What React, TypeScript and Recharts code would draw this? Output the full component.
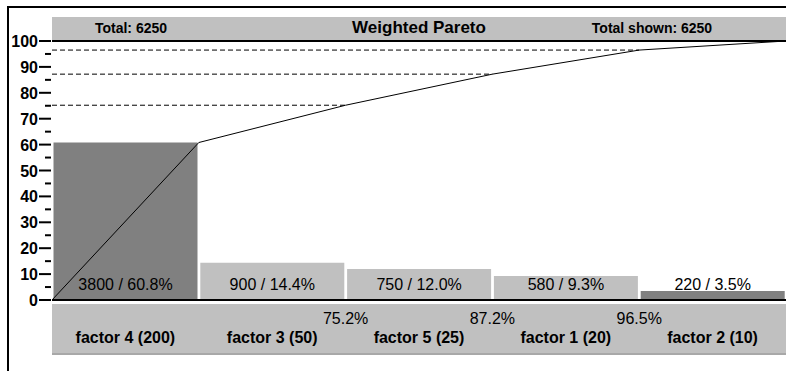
import React from "react";
import {
  ComposedChart,
  Bar,
  Line,
  XAxis,
  YAxis,
  Cell,
  LabelList,
  ReferenceLine,
} from "recharts";

const factors = [
  "factor 4 (200)",
  "factor 3 (50)",
  "factor 5 (25)",
  "factor 1 (20)",
  "factor 2 (10)",
];
const counts = [3800, 900, 750, 580, 220];
const shares = [60.8, 14.4, 12.0, 9.3, 3.5];
const cumulative = [0, 60.8, 75.2, 87.2, 96.5, 100];
const guideIdx = [2, 3, 4];
const yTicks = [0, 5, 10, 15, 20, 25, 30, 35, 40, 45, 50, 55, 60, 65, 70, 75, 80, 85, 90, 95, 100];
const barColors = ["#808080", "#c0c0c0", "#c0c0c0", "#c0c0c0", "#808080"];

const barData = factors.map((f, i) => ({ factor: f, share: shares[i] }));
const cumData = cumulative.map((c, i) => ({ pos: i, cum: c }));

const FONT = "'Liberation Sans', Arial, sans-serif";
const BAND = 146.8;

const YTick = (props: any) => {
  const { x, y, payload } = props;
  const major = payload.value % 10 === 0;
  return (
    <g>
      <line x1={major ? x - 13 : x - 7} x2={x - 1} y1={y} y2={y} stroke="#000" strokeWidth={2} />
      {major && (
        <text x={x - 14} y={y} dy={6} textAnchor="end" fontSize={16} fontWeight="bold" fontFamily={FONT} fill="#000">
          {payload.value}
        </text>
      )}
    </g>
  );
};

const XTick = (props: any) => {
  const { x, y, payload, index } = props;
  const cumIdx = index + 1;
  return (
    <g>
      {index >= 1 && index <= 3 && (
        <text x={x + BAND / 2} y={y + 24} textAnchor="middle" fontSize={16} fontFamily={FONT} fill="#000">
          {cumulative[cumIdx].toFixed(1)}%
        </text>
      )}
      <text x={x} y={y + 43} textAnchor="middle" fontSize={16} fontWeight="bold" fontFamily={FONT} fill="#000">
        {payload.value}
      </text>
    </g>
  );
};

const BarLabel = (props: any) => {
  const { x, y, width, height, index } = props;
  return (
    <text x={x + width / 2} y={y + height - 10} textAnchor="middle" fontSize={16} fontFamily={FONT} fill="#000">
      {counts[index]} / {shares[index].toFixed(1)}%
    </text>
  );
};

export default function App() {
  return (
    <div style={{ position: "absolute", left: 0, top: 0, width: 786, height: 371, background: "#fff", fontFamily: FONT }}>
      <div style={{ position: "absolute", left: 7, top: 6, width: 2, height: 365, background: "#000" }} />
      <div style={{ position: "absolute", left: 7, top: 6, width: 779, height: 2, background: "#000" }} />
      <div style={{ position: "absolute", left: 52, top: 17, width: 734, height: 24, background: "#c0c0c0" }} />
      <div style={{ position: "absolute", left: 52, top: 304, width: 734, height: 49, background: "#c0c0c0", borderBottom: "2px solid #a8a8a8" }} />
      <div style={{ position: "absolute", left: 66, top: 20, width: 130, textAlign: "center", fontSize: 14, fontWeight: "bold", lineHeight: "17px" }}>
        Total: 6250
      </div>
      <div style={{ position: "absolute", left: 319, top: 18, width: 200, textAlign: "center", fontSize: 17, fontWeight: "bold", lineHeight: "20px" }}>
        Weighted Pareto
      </div>
      <div style={{ position: "absolute", left: 572, top: 20, width: 160, textAlign: "center", fontSize: 14, fontWeight: "bold", lineHeight: "17px" }}>
        Total shown: 6250
      </div>
      <div style={{ position: "absolute", left: 0, top: 0 }}>
        <ComposedChart
          width={786}
          height={371}
          data={barData}
          margin={{ top: 41, right: 0, bottom: 0, left: 0 }}
          barCategoryGap={1.5}
        >
          <XAxis
            dataKey="factor"
            xAxisId="cat"
            height={71}
            tickSize={0}
            tickMargin={0}
            interval={0}
            axisLine={{ stroke: "#000", strokeWidth: 2 }}
            tick={<XTick />}
          />
          <XAxis xAxisId="cum" type="number" dataKey="pos" domain={[0, 5]} hide />
          <YAxis
            domain={[0, 100]}
            ticks={yTicks}
            interval={0}
            width={52}
            axisLine={false}
            tickSize={0}
            tickMargin={0}
            tick={<YTick />}
          />
          <Bar dataKey="share" xAxisId="cat" isAnimationActive={false}>
            {barData.map((d, i) => (
              <Cell key={d.factor} fill={barColors[i]} />
            ))}
            <LabelList dataKey="share" content={<BarLabel />} />
          </Bar>
          <ReferenceLine xAxisId="cat" y={100} stroke="#000" strokeWidth={2} />
          {guideIdx.map((gi) => (
            <ReferenceLine
              key={gi}
              xAxisId="cum"
              segment={[
                { x: 0, y: cumulative[gi] },
                { x: gi, y: cumulative[gi] },
              ]}
              stroke="#000"
              strokeDasharray="5 3"
            />
          ))}
          <Line
            xAxisId="cum"
            data={cumData}
            dataKey="cum"
            type="linear"
            stroke="#000"
            strokeWidth={1}
            dot={false}
            isAnimationActive={false}
          />
        </ComposedChart>
      </div>
    </div>
  );
}
